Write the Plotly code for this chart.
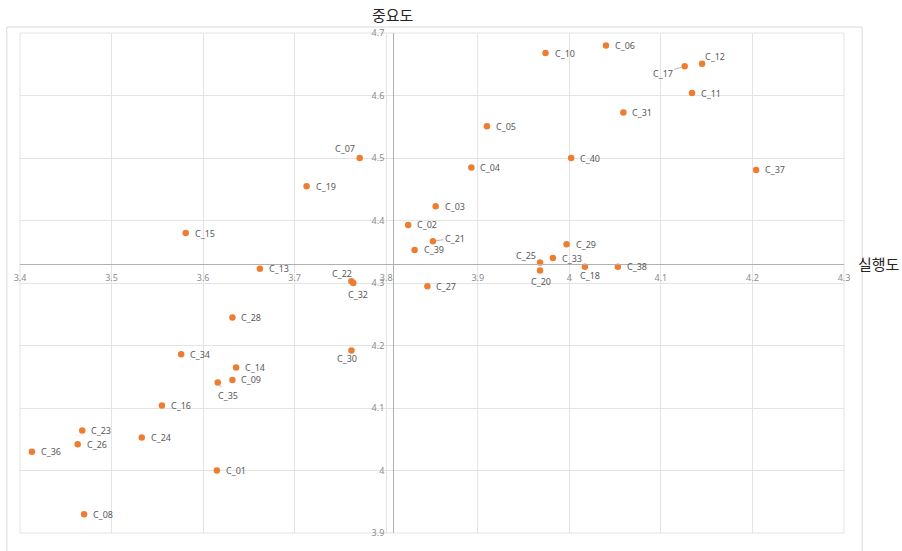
import plotly.graph_objects as go

names = [f"C_{i:02d}" for i in range(1, 41)]
perf = [3.615, 3.824, 3.854, 3.893, 3.910, 4.040, 3.771, 3.470, 3.632, 3.974,
        4.134, 4.145, 3.662, 3.636, 3.581, 3.555, 4.126, 4.017, 3.713, 3.968,
        3.851, 3.762, 3.468, 3.533, 3.968, 3.463, 3.845, 3.632, 3.997, 3.762,
        4.059, 3.764, 3.982, 3.576, 3.616, 3.413, 4.204, 4.053, 3.831, 4.002]
imp = [4.000, 4.393, 4.423, 4.485, 4.551, 4.680, 4.500, 3.930, 4.145, 4.668,
       4.604, 4.651, 4.323, 4.165, 4.380, 4.104, 4.647, 4.326, 4.455, 4.320,
       4.367, 4.303, 4.064, 4.053, 4.333, 4.042, 4.295, 4.245, 4.362, 4.192,
       4.573, 4.300, 4.340, 4.186, 4.141, 4.030, 4.481, 4.326, 4.353, 4.500]

x_ticks = [3.4, 3.5, 3.6, 3.7, 3.8, 3.9, 4.0, 4.1, 4.2, 4.3]
x_ticktext = ["3.4", "3.5", "3.6", "3.7", "3.8", "3.9", "4", "4.1", "4.2", "4.3"]
y_ticks = [3.9, 4.0, 4.1, 4.2, 4.3, 4.4, 4.5, 4.6, 4.7]
y_ticktext = ["3.9", "4", "4.1", "4.2", "4.3", "4.4", "4.5", "4.6", "4.7"]

x_title = "실행도"
y_title = "중요도"

XR = [3.4, 4.3]
YR = [3.9, 4.7]
cross_x = sum(perf) / len(perf)
cross_y = sum(imp) / len(imp)

LABEL_COLOR = "#595959"
DOT_COLOR = "#ED7D31"
GRID = "#e3e3e3"
AXIS = "#b0b0b0"
KFONT = "Noto Sans CJK KR"

# label offsets (centered labels): xshift, yshift in px
special = {
    "C_07": (-15, 10), "C_12": (13, 7), "C_22": (-9, 8), "C_32": (5, -11),
    "C_30": (-4, -8), "C_25": (-14, 7), "C_20": (1, -11), "C_18": (5, -9),
}
# leader-line labels: ax, ay (label center relative to point)
leader = {"C_17": (-22, 7), "C_35": (10, 13), "C_21": (22, -3)}

fig = go.Figure()
fig.add_trace(go.Scatter(
    x=perf, y=imp, mode="markers",
    marker=dict(size=6.5, color=DOT_COLOR),
    hovertext=names, showlegend=False,
))

annotations = []
lfont = dict(family="Noto Sans, DejaVu Sans", size=9, color=LABEL_COLOR)
for n, xv, yv in zip(names, perf, imp):
    if n in leader:
        ax, ay = leader[n]
        annotations.append(dict(x=xv, y=yv, xref="x", yref="y", text=n,
                                showarrow=True, arrowhead=0, arrowwidth=0.8,
                                arrowcolor="#a6a6a6", ax=ax, ay=ay, standoff=3,
                                font=lfont))
    elif n in special:
        dx, dy = special[n]
        annotations.append(dict(x=xv, y=yv, xref="x", yref="y", text=n,
                                showarrow=False, xanchor="center", yanchor="middle",
                                xshift=dx, yshift=dy, font=lfont))
    else:
        annotations.append(dict(x=xv, y=yv, xref="x", yref="y", text=n,
                                showarrow=False, xanchor="left", yanchor="middle",
                                xshift=7, font=lfont))

annotations.append(dict(x=cross_x, y=1.0, xref="paper" if False else "x", yref="paper", text=y_title,
                        showarrow=False, xanchor="center", yanchor="bottom", yshift=6,
                        font=dict(family=KFONT, size=15, color="#262626")))
annotations.append(dict(x=1.0, y=cross_y, xref="paper", yref="y", text=x_title,
                        showarrow=False, xanchor="left", yanchor="middle", xshift=12,
                        font=dict(family=KFONT, size=15, color="#262626")))

shapes = [
    dict(type="rect", xref="paper", yref="paper", x0=-0.016, x1=1.022, y0=-0.08, y1=1.012,
         line=dict(color="#d9d9d9", width=1), fillcolor="rgba(0,0,0,0)", layer="below"),
    dict(type="rect", xref="paper", yref="paper", x0=0, x1=1, y0=0, y1=1,
         line=dict(color=GRID, width=1), fillcolor="rgba(0,0,0,0)", layer="below"),
]

tfont = dict(family="Noto Sans, DejaVu Sans", size=9, color="#8c8c8c")
fig.update_layout(
    width=902, height=551,
    margin=dict(l=20, r=58, t=33, b=16),
    paper_bgcolor="white", plot_bgcolor="white",
    annotations=annotations, shapes=shapes,
    xaxis=dict(range=XR, tickvals=x_ticks, ticktext=x_ticktext,
               anchor="free", position=(cross_y - YR[0]) / (YR[1] - YR[0]),
               showline=True, linecolor=AXIS, linewidth=1,
               showgrid=True, gridcolor=GRID, gridwidth=1, zeroline=False,
               ticks="", tickfont=tfont, ticklabelstandoff=6, fixedrange=True),
    yaxis=dict(range=YR, tickvals=y_ticks, ticktext=y_ticktext,
               anchor="free", position=(cross_x - XR[0]) / (XR[1] - XR[0]),
               showline=True, linecolor=AXIS, linewidth=1,
               showgrid=True, gridcolor=GRID, gridwidth=1, zeroline=False,
               ticks="", tickfont=tfont, ticklabelstandoff=7, fixedrange=True),
)

fig.write_html("out.html")
